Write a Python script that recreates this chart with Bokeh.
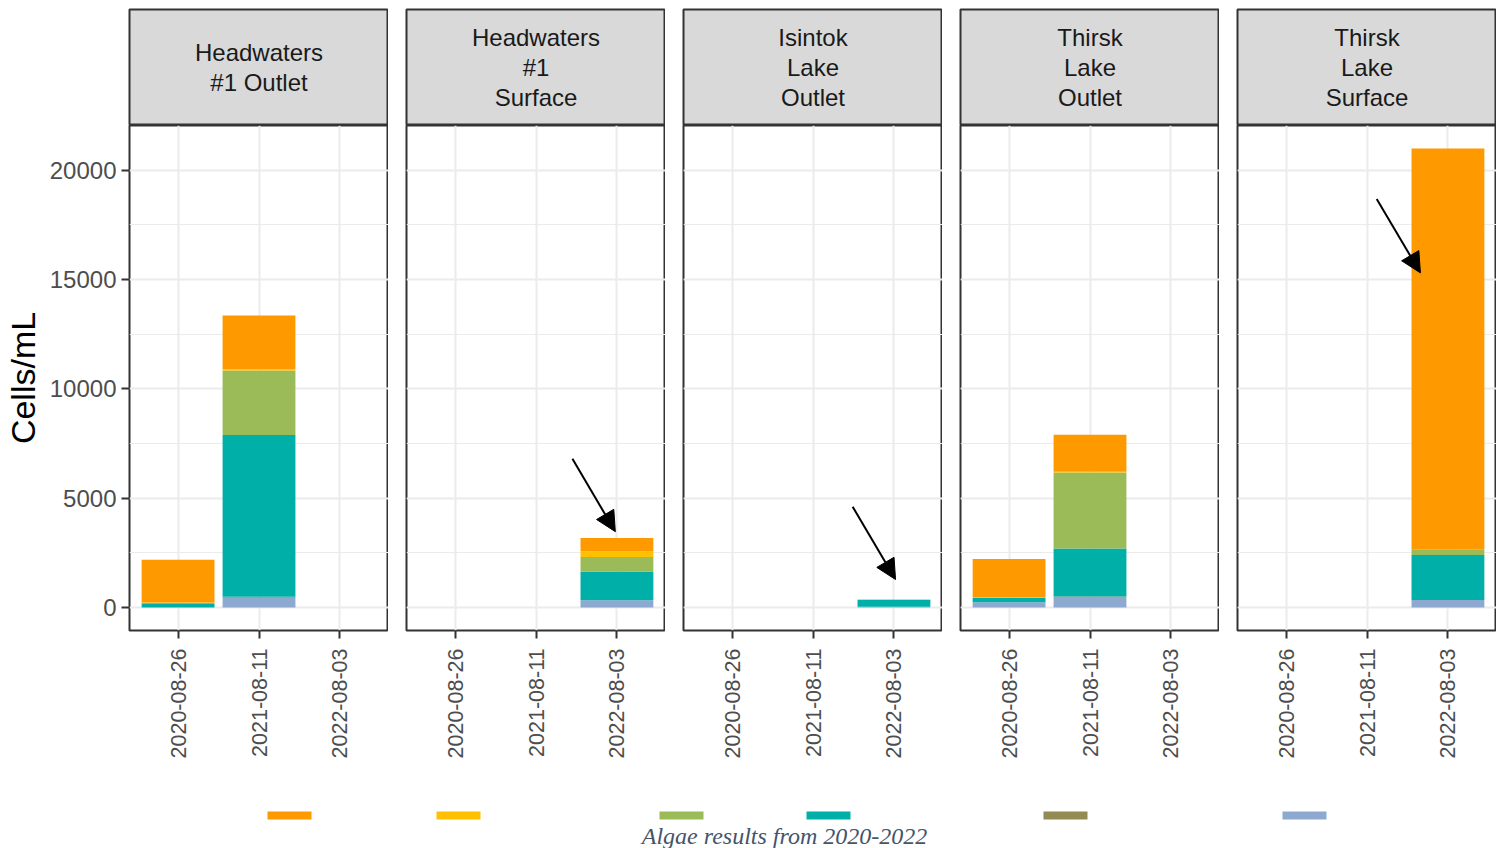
import math
from bokeh.plotting import figure
from bokeh.layouts import column, row
from bokeh.models import (ColumnDataSource, Range1d, FixedTicker, SingleIntervalTicker,
                          Arrow, NormalHead)
from bokeh.core.properties import value
from bokeh.embed import file_html
from bokeh.resources import INLINE

# ---------------- data ----------------
dates = ["2020-08-26", "2021-08-11", "2022-08-03"]
sites = ["Headwaters\n#1 Outlet", "Headwaters\n#1\nSurface", "Isintok\nLake\nOutlet",
         "Thirsk\nLake\nOutlet", "Thirsk\nLake\nSurface"]

# stacked groups, bottom -> top (Cells/mL), one list of 3 dates per site
blue_vals = [[0, 450, 0], [0, 0, 330], [0, 0, 40], [240, 480, 0], [0, 0, 340]]
olive_vals = [[0, 40, 0], [0, 0, 0], [0, 0, 0], [0, 20, 0], [0, 0, 0]]
teal_vals = [[200, 7400, 0], [0, 0, 1320], [0, 0, 310], [200, 2200, 0], [0, 0, 2060]]
green_vals = [[0, 2950, 0], [0, 0, 660], [0, 0, 20], [0, 3480, 0], [0, 0, 270]]
yellow_vals = [[30, 60, 0], [0, 0, 260], [0, 0, 0], [20, 30, 0], [0, 0, 0]]
orange_vals = [[1960, 2450, 0], [0, 0, 610], [0, 0, 0], [1760, 1690, 0], [0, 0, 18320]]

stack_names = ["blue", "olive", "teal", "green", "yellow", "orange"]
stack_colors = ["#8DA9CF", "#948A54", "#00B0A8", "#9BBB59", "#FFC000", "#FF9900"]
stack_data = [blue_vals, olive_vals, teal_vals, green_vals, yellow_vals, orange_vals]

legend_colors = ["#FF9900", "#FFC000", "#9BBB59", "#00B0A8", "#948A54", "#8DA9CF"]

# arrows (site index, x_start, y_start, x_end, y_end) in data units
arrows = [(1, 2.45, 6800, 2.98, 3470),
          (2, 2.49, 4610, 3.02, 1280),
          (4, 2.12, 18680, 2.66, 15300)]

caption = "Algae results from 2020-2022"

# ---------------- layout constants ----------------
FRAME_W = 259
GAP = 18
LEFT = 129
FRAME_H = 505
HEAD_H = 116
FONT = "Liberation Sans"

totals = [sum(stack_data[g][s][d] for g in range(6)) for s in range(5) for d in range(3)]
ymax = max(totals)
pad = ymax * 0.05

headers = []
panels = []
for si, site in enumerate(sites):
    lb = LEFT if si == 0 else GAP
    # header strip
    h = figure(width=lb + FRAME_W, height=9 + HEAD_H, x_range=Range1d(0, 1), y_range=Range1d(0, 1),
               output_backend="svg", toolbar_location=None,
               x_axis_location=None, y_axis_location=None,
               min_border_left=lb, min_border_right=0, min_border_top=9, min_border_bottom=0,
               background_fill_color="#D9D9D9", border_fill_color="white",
               outline_line_color="#333333", outline_line_width=2)
    h.xgrid.visible = False
    h.ygrid.visible = False
    h.text(x=[0.5], y=[0.5], text=[site], text_align="center", text_baseline="middle",
           text_font=value(FONT), text_font_size="24px", text_color="#1A1A1A",
           text_line_height=1.1)
    headers.append(h)

    # panel
    p = figure(width=lb + FRAME_W, height=FRAME_H + 165,
               x_range=Range1d(0.4, 3.6), y_range=Range1d(-pad, ymax + pad),
               output_backend="svg", toolbar_location=None,
               min_border_left=lb, min_border_right=0, min_border_top=0, min_border_bottom=165,
               background_fill_color="white", border_fill_color="white",
               outline_line_color="#333333", outline_line_width=2)
    src = {"x": [1, 2, 3]}
    for name, vals in zip(stack_names, stack_data):
        src[name] = vals[si]
    p.vbar_stack(stack_names, x="x", width=0.9, color=stack_colors, line_color=None,
                 source=ColumnDataSource(src))

    p.xaxis.ticker = FixedTicker(ticks=[1, 2, 3])
    p.xaxis.major_label_overrides = {i + 1: d for i, d in enumerate(dates)}
    p.xaxis.major_label_orientation = math.pi / 2
    p.xaxis.major_label_text_font = FONT
    p.xaxis.major_label_text_font_size = "21.5px"
    p.xaxis.major_label_text_color = "#4D4D4D"
    p.xaxis.major_label_standoff = 10
    p.xaxis.minor_tick_line_color = None

    p.yaxis.ticker = SingleIntervalTicker(interval=5000, num_minor_ticks=2)
    p.yaxis.major_label_text_font = FONT
    p.yaxis.major_label_text_font_size = "24px"
    p.yaxis.major_label_text_color = "#4D4D4D"
    p.yaxis.major_label_standoff = 5
    p.yaxis.minor_tick_line_color = None
    p.yaxis.formatter.use_scientific = False

    for ax in (p.xaxis, p.yaxis):
        ax.axis_line_color = None
        ax.major_tick_line_color = "#333333"
        ax.major_tick_line_width = 2
        ax.major_tick_out = 8
        ax.major_tick_in = 0

    if si == 0:
        p.yaxis.axis_label = "Cells/mL"
        p.yaxis.axis_label_text_font = FONT
        p.yaxis.axis_label_text_font_size = "34px"
        p.yaxis.axis_label_text_font_style = "normal"
        p.yaxis.axis_label_text_color = "black"
        p.yaxis.axis_label_standoff = 5
    else:
        p.yaxis.visible = False

    p.xgrid.grid_line_color = "#EBEBEB"
    p.xgrid.grid_line_width = 2
    p.ygrid.grid_line_color = "#EBEBEB"
    p.ygrid.grid_line_width = 2
    p.ygrid.minor_grid_line_color = "#EBEBEB"
    p.ygrid.minor_grid_line_width = 1.2

    for (ai, xs, ys, xe, ye) in arrows:
        if ai == si:
            p.add_layout(Arrow(end=NormalHead(size=20, fill_color="black", line_color="black"),
                               x_start=xs, y_start=ys, x_end=xe, y_end=ye,
                               line_color="black", line_width=2))
    panels.append(p)

# bottom strip: legend keys (labels cut off in the original) and caption
legend_key_left = [267, 436, 659, 806, 1043, 1282]
b = figure(width=1502, height=53, x_range=Range1d(0, 1502), y_range=Range1d(53, 0),
           output_backend="svg", toolbar_location=None,
           x_axis_location=None, y_axis_location=None, min_border=0,
           outline_line_color=None, background_fill_color="white", border_fill_color="white")
b.xgrid.visible = False
b.ygrid.visible = False
b.quad(left=legend_key_left, right=[k + 44 for k in legend_key_left],
       top=[16] * 6, bottom=[24] * 6, fill_color=legend_colors, line_color=None)
b.text(x=[784], y=[40], text=[caption], text_align="center", text_baseline="middle",
       text_font=value("Liberation Serif"), text_font_style="italic",
       text_font_size="24px", text_color="#44546A")

layout = column(row(*headers, spacing=0), row(*panels, spacing=0), b, spacing=0)

open("out.html", "w").write(file_html(layout, INLINE))
